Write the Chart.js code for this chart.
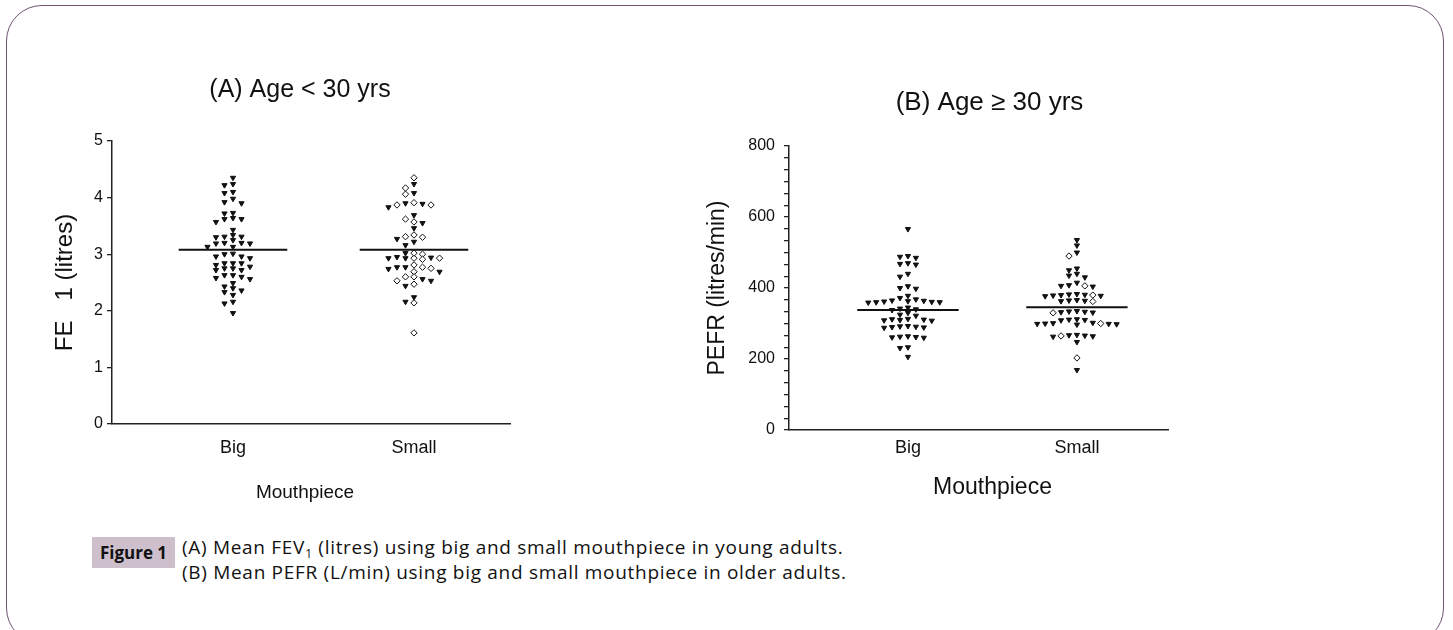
<!DOCTYPE html>
<html>
<head>
<meta charset="utf-8">
<script src="https://cdn.jsdelivr.net/npm/chart.js@4.4.1/dist/chart.umd.min.js"></script>
<style>
  html, body { margin: 0; padding: 0; background: #fff; }
  body { width: 1453px; height: 630px; position: relative; overflow: hidden; }
  .frame { position: absolute; left: 6px; top: 5px; width: 1438px; height: 639px;
           border: 1.5px solid #6e5270; border-radius: 36px; box-sizing: border-box; }
  #chartA { position: absolute; left: 0; top: 50px; }
  #chartB { position: absolute; left: 650px; top: 50px; }
  .fig-label { position: absolute; left: 92px; top: 537px; width: 83px; height: 31px;
               background: #cdbfcc; color: #111; font: bold 17px "Open Sans", sans-serif;
               line-height: 31px; text-align: center; }
  .caption { position: absolute; left: 182px; top: 535px; color: #111; white-space: nowrap;
             font: 19px "Open Sans", sans-serif; letter-spacing: 0.7px; line-height: 25px; }
  .caption sub { font-size: 12px; vertical-align: -4px; line-height: 0; }
</style>
</head>
<body>
<div class="frame"></div>
<canvas id="chartA" width="560" height="480"></canvas>
<canvas id="chartB" width="560" height="480"></canvas>
<div class="fig-label">Figure 1</div>
<div class="caption">
  (A) Mean FEV<sub>1</sub> (litres) using big and small mouthpiece in young adults.<br>
  (B) Mean PEFR (L/min) using big and small mouthpiece in older adults.
</div>
<script>
(function () {
  'use strict';

  // Values.
  var categories = ['Big', 'Small'];

  var fevBig = [4.35, 4.24, 4.22, 4.10, 4.08, 3.98, 3.90, 3.92, 3.72, 3.73, 3.62, 3.57, 3.62, 3.64,
    3.43, 3.34, 3.31, 3.30, 3.31, 3.25, 3.20, 3.19, 3.19, 3.20, 3.13, 3.13, 3.01, 2.96, 2.93, 2.96,
    3.00, 2.84, 2.84, 2.81, 2.84, 2.78, 2.75, 2.72, 2.72, 2.75, 2.63, 2.63, 2.58, 2.56, 2.60, 2.49,
    2.40, 2.33, 2.36, 2.43, 2.28, 2.16, 2.13, 1.96];
  var fevSmall = [4.35, 4.24, 4.17, 4.08, 4.06, 3.89, 3.87, 3.83, 3.87, 3.90, 3.91, 3.69, 3.57, 3.55,
    3.62, 3.46, 3.30, 3.22, 3.34, 3.27, 3.31, 3.16, 3.00, 2.95, 2.93, 2.93, 2.91, 2.93, 2.93, 2.94,
    3.02, 3.02, 2.81, 2.77, 2.75, 2.74, 2.69, 2.69, 2.77, 2.77, 2.60, 2.56, 2.53, 2.44, 2.47, 2.53,
    2.60, 2.16, 2.14, 2.24, 1.61];
  var fevMeans = [3.08, 3.08];
  var fevTicks = [0, 1, 2, 3, 4, 5];

  var pefrBig = [566, 490, 485, 488, 470, 466, 468, 440, 432, 405, 398, 400, 378, 372, 368, 365,
    362, 360, 361, 363, 359, 364, 360, 345, 342, 338, 340, 330, 325, 322, 310, 312, 308, 311, 309,
    313, 290, 292, 288, 291, 289, 293, 263, 261, 264, 262, 260, 231, 233, 206];
  var pefrSmall = [535, 520, 500, 490, 455, 450, 440, 435, 430, 415, 406, 406, 408, 404, 380, 382,
    378, 380, 381, 379, 383, 377, 363, 365, 362, 364, 366, 332, 334, 331, 333, 330, 335, 310, 312,
    309, 311, 299, 300, 298, 301, 297, 302, 300, 299, 265, 267, 264, 266, 268, 263, 248, 203, 169];
  var pefrMeans = [338, 346];
  var pefrTicks = [0, 200, 400, 600, 800];

  var FONT = '"Liberation Sans", Arial, sans-serif';
  var INK = '#111';
  var AXIS = '#222';
  var X_TITLE = 'Mouthpiece';

  // Column-scatter layout: highest value first, each point takes the nearest free slot.
  function swarm(values, center, slotWidth, minGap) {
    var order = values.map(function (v, i) { return i; })
      .sort(function (a, b) { return values[b] - values[a]; });
    var placed = [];
    var out = new Array(values.length);
    order.forEach(function (i) {
      var v = values[i];
      for (var k = 0; k < 30; k++) {
        var slot = k === 0 ? 0 : (k % 2 ? -(k + 1) / 2 : k / 2);
        var clash = placed.some(function (p) { return p.slot === slot && Math.abs(p.y - v) < minGap; });
        if (!clash) {
          placed.push({ slot: slot, y: v });
          out[i] = { x: center + slot * slotWidth, y: v };
          break;
        }
      }
    });
    return out;
  }

  function meanLine(pos, value) {
    return {
      type: 'line',
      data: [{ x: pos - 0.3, y: value }, { x: pos + 0.3, y: value }],
      borderColor: INK, borderWidth: 2, pointRadius: 0, showLine: true, order: 0
    };
  }

  function pointSet(points, styleFn) {
    return {
      data: points,
      showLine: false,
      pointStyle: styleFn,
      rotation: function (ctx) { return styleFn(ctx) === 'triangle' ? 180 : 0; },
      radius: function (ctx) { return styleFn(ctx) === 'triangle' ? 3 : 3.2; },
      backgroundColor: function (ctx) { return styleFn(ctx) === 'triangle' ? INK : '#fff'; },
      borderColor: INK,
      borderWidth: 1,
      order: 1
    };
  }

  // The printed figure does not centre its headings on the plot, so nudge the
  // title / subtitle blocks sideways once the layout is known.
  var textShift = {
    id: 'textShift',
    afterLayout: function (chart, args, opts) {
      chart.boxes.forEach(function (box) {
        if (box.axis || !box.options || !opts.dx) return;
        var dx = opts.dx[box.options.text];
        if (dx) { box.left += dx; box.right += dx; }
      });
    }
  };

  function buildChart(canvasId, opt) {
    var canvas = document.getElementById(canvasId);
    var minorTicks = [];
    for (var i = 0; i < opt.yTicks.length - 1; i++) {
      var a = opt.yTicks[i], b = opt.yTicks[i + 1];
      for (var m = 0; m < opt.minorPerMajor; m++) {
        minorTicks.push(a + (b - a) * m / opt.minorPerMajor);
      }
    }
    minorTicks.push(opt.yTicks[opt.yTicks.length - 1]);

    var slot = 0.047;
    var gap = (opt.yMax - opt.yMin) * 5 / 283;
    var shifts = {};
    shifts[opt.title] = opt.titleDx;
    shifts[X_TITLE] = opt.xTitleDx;

    return new Chart(canvas, {
      type: 'scatter',
      plugins: [textShift],
      data: {
        datasets: [
          pointSet(swarm(opt.big, 1, slot, gap), function () { return 'triangle'; }),
          pointSet(swarm(opt.small, 2, slot, gap), opt.smallStyle),
          meanLine(1, opt.means[0]),
          meanLine(2, opt.means[1])
        ]
      },
      options: {
        responsive: false,
        animation: false,
        layout: { padding: { left: 0, right: opt.padRight, top: 0, bottom: 0 } },
        plugins: {
          legend: { display: false },
          tooltip: { enabled: false },
          textShift: { dx: shifts },
          title: {
            display: true, text: opt.title, fullSize: false, color: INK,
            font: { family: FONT, size: opt.titleSize, weight: 'normal' },
            padding: opt.titlePad
          },
          // x-axis title, drawn as a bottom subtitle so it can sit off-centre
          subtitle: {
            display: true, position: 'bottom', text: X_TITLE, fullSize: false, color: INK,
            font: { family: FONT, size: opt.xTitleSize, weight: 'normal' },
            padding: opt.xTitlePad
          }
        },
        scales: {
          x: {
            type: 'linear', min: opt.xMin, max: opt.xMax,
            afterBuildTicks: function (scale) {
              scale.ticks = categories.map(function (c, i) { return { value: i + 1 }; });
            },
            afterFit: function (scale) { scale.height = 40; },
            ticks: {
              autoSkip: false, color: INK, padding: opt.xTickPad,
              font: { family: FONT, size: 18 },
              callback: function (v, i) { return categories[i]; }
            },
            grid: { display: false, drawTicks: false },
            border: { display: true, color: AXIS, width: 1.5 }
          },
          y: {
            min: opt.yMin, max: opt.yMax,
            afterBuildTicks: function (scale) {
              scale.ticks = minorTicks.map(function (v) { return { value: v }; });
            },
            afterFit: function (scale) { scale.width = opt.yWidth; },
            ticks: {
              autoSkip: false, color: INK, padding: opt.yTickPad,
              font: { family: FONT, size: 16 },
              callback: function (v) { return opt.yTicks.indexOf(v) >= 0 ? String(v) : ''; }
            },
            grid: { display: true, drawOnChartArea: false, drawTicks: true, tickLength: 5, color: AXIS, lineWidth: 1.3 },
            border: { display: true, color: AXIS, width: 1.5 },
            title: {
              display: true, text: opt.yTitle, color: INK,
              font: { family: FONT, size: opt.yTitleSize }, padding: opt.yTitlePad
            }
          }
        }
      }
    });
  }

  buildChart('chartA', {
    title: '(A) Age < 30 yrs', yTitle: 'FE   1 (litres)',
    big: fevBig, small: fevSmall, means: fevMeans,
    yTicks: fevTicks, minorPerMajor: 1, yMin: 0, yMax: 5,
    xMin: 0.3315, xMax: 2.5304,
    smallStyle: function (ctx) { return ctx.dataIndex % 2 ? 'triangle' : 'rectRot'; },
    padRight: 50, yWidth: 112,
    titleSize: 25, titleDx: -11, titlePad: { top: 25, bottom: 36 },
    xTickPad: 13, xTitleSize: 19, xTitleDx: -6, xTitlePad: { top: 17.6, bottom: 25.6 },
    yTickPad: 4, yTitleSize: 24, yTitlePad: { top: 51, bottom: 0 }
  });

  buildChart('chartB', {
    title: '(B) Age \u2265 30 yrs', yTitle: 'PEFR (litres/min)',
    big: pefrBig, small: pefrSmall, means: pefrMeans,
    yTicks: pefrTicks, minorPerMajor: 6, yMin: 0, yMax: 800,
    xMin: 0.296, xMax: 2.539,
    smallStyle: function (ctx) { return ctx.dataIndex % 7 === 3 ? 'rectRot' : 'triangle'; },
    padRight: 42, yWidth: 139,
    titleSize: 26, titleDx: 11, titlePad: { top: 37.4, bottom: 27.4 },
    xTickPad: 7, xTitleSize: 23, xTitleDx: 14, xTitlePad: { top: 4.2, bottom: 28.2 },
    yTickPad: 9, yTitleSize: 23, yTitlePad: { top: 54, bottom: 0 }
  });
}());
</script>
</body>
</html>
